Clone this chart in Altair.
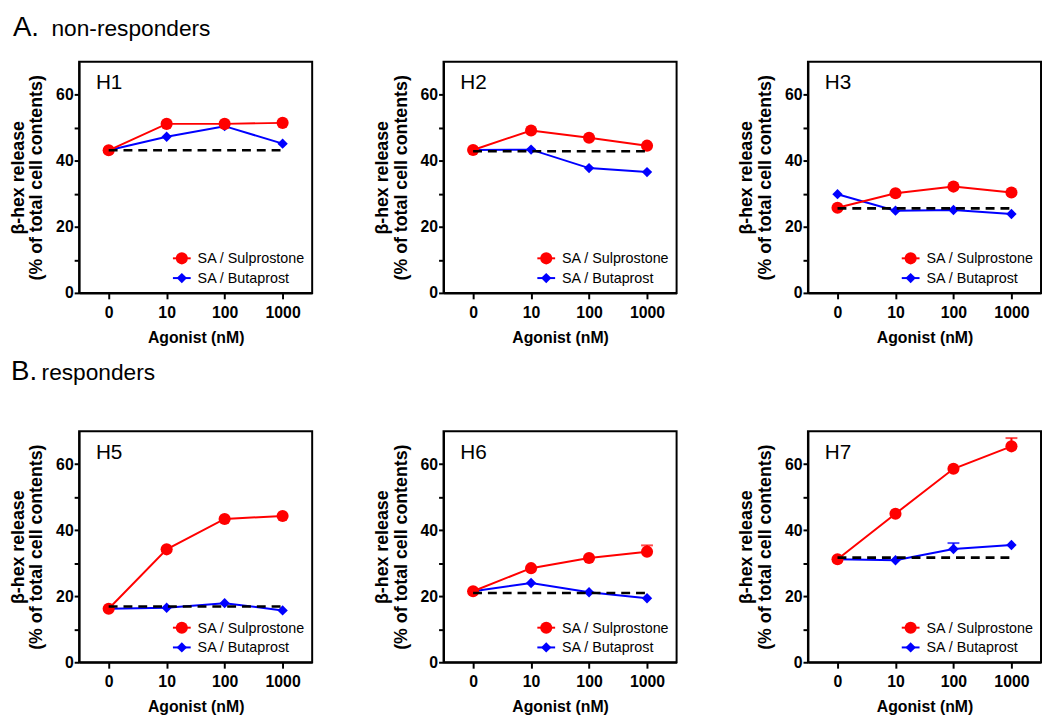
import altair as alt
import pandas as pd

# ---------------- data ----------------
DOSES = ["0", "10", "100", "1000"]
SERIES = ["SA / Sulprostone", "SA / Butaprost"]
PANELS_A = ["H1", "H2", "H3"]
PANELS_B = ["H5", "H6", "H7"]
GROUP_LETTERS = ["A.", "B."]
GROUP_NAMES = ["non-responders", "responders"]
X_TITLE = "Agonist (nM)"
Y_TITLE = ["β-hex release", "(% of total cell contents)"]
Y_TICKS = [0, 10, 20, 30, 40, 50, 60]

SULPRO = {
    "H1": [43.2, 51.2, 51.2, 51.5],
    "H2": [43.3, 49.2, 47.0, 44.6],
    "H3": [25.8, 30.2, 32.2, 30.4],
    "H5": [16.2, 34.2, 43.4, 44.3],
    "H6": [21.5, 28.5, 31.6, 33.5],
    "H7": [31.2, 45.0, 58.6, 65.4],
}
SULPRO_ERR = {
    "H1": [0, 0, 0, 0],
    "H2": [0, 0, 0, 0],
    "H3": [0, 0, 0, 0],
    "H5": [0, 0, 0, 0],
    "H6": [0, 0, 0, 1.9],
    "H7": [0, 0, 0, 2.5],
}
BUTA = {
    "H1": [43.2, 47.3, 50.5, 45.2],
    "H2": [43.3, 43.4, 37.8, 36.6],
    "H3": [29.9, 24.9, 25.1, 23.9],
    "H5": [16.2, 16.5, 17.9, 15.7],
    "H6": [21.5, 24.0, 21.2, 19.4],
    "H7": [31.2, 30.9, 34.3, 35.5],
}
BUTA_ERR = {
    "H1": [0, 0, 0, 0],
    "H2": [0, 0, 0, 0],
    "H3": [0, 0, 0, 0],
    "H5": [0, 0, 0, 0],
    "H6": [0, 0, 0, 0],
    "H7": [0, 0, 1.8, 0],
}
BASELINE = {"H1": 43.2, "H2": 42.9, "H3": 25.6, "H5": 16.9, "H6": 21.0, "H7": 31.7}

rows = []
for p in PANELS_A + PANELS_B:
    for s, vals, errs in [(SERIES[0], SULPRO[p], SULPRO_ERR[p]), (SERIES[1], BUTA[p], BUTA_ERR[p])]:
        for d, v, e in zip(DOSES, vals, errs):
            rows.append({"panel": p, "series": s, "dose": d, "value": v, "err": e, "top": v + e})
df = pd.DataFrame(rows)

base_rows = []
for p in PANELS_A + PANELS_B:
    for d in (DOSES[0], DOSES[-1]):
        base_rows.append({"panel": p, "dose": d, "value": BASELINE[p]})
base_df = pd.DataFrame(base_rows)

# ---------------- style ----------------
RED = "#FF0000"
BLUE = "#0000FF"
FONT = "Liberation Sans"
W, H = 236, 234

X_AXIS = alt.Axis(title=X_TITLE, labelAngle=0, tickSize=6, labelPadding=6, titlePadding=9,
                  titleFontSize=16)
Y_AXIS = alt.Axis(title=Y_TITLE, values=Y_TICKS, tickSize=5, labelPadding=1, titlePadding=10,
                  titleFontSize=18, titleLineHeight=19,
                  labelExpr="datum.value % 20 == 0 ? datum.label : ''")
X_SCALE = alt.Scale(type="point", padding=0.51)
Y_SCALE = alt.Scale(domain=[0, 70], nice=False)


def xe():
    return alt.X("dose:O", sort=DOSES, scale=X_SCALE, axis=X_AXIS)


def ye(field="value"):
    return alt.Y(f"{field}:Q", scale=Y_SCALE, axis=Y_AXIS)


def panel(pid):
    d = df[df.panel == pid]
    layers = []
    for s, color, shape, size in [(SERIES[1], BLUE, "diamond", 110), (SERIES[0], RED, "circle", 150)]:
        sd = d[d.series == s]
        ed = sd[sd.err > 0]
        if len(ed):
            layers.append(alt.Chart(ed).mark_rule(color=color, strokeWidth=2).encode(
                x=xe(), y=ye(), y2="top:Q"))
            layers.append(alt.Chart(ed).mark_tick(color=color, thickness=2, size=12,
                                                  orient="horizontal").encode(x=xe(), y=ye("top")))
        layers.append(alt.Chart(sd).mark_line(color=color, strokeWidth=2).encode(x=xe(), y=ye()))
        layers.append(alt.Chart(sd).mark_point(color=color, filled=True, shape=shape, size=size,
                                               opacity=1).encode(x=xe(), y=ye()))
    bd = base_df[base_df.panel == pid]
    layers.append(alt.Chart(bd).mark_line(color="black", strokeWidth=2.6, strokeDash=[9, 6]).encode(
        x=xe(), y=ye()))
    # panel label
    layers.append(alt.Chart(pd.DataFrame({"label": [pid]})).mark_text(
        align="left", baseline="alphabetic", fontSize=21, font=FONT, color="black").encode(
        text="label:N", x=alt.value(17), y=alt.value(28)))
    # legend
    for i, (s, color, shape, size) in enumerate([(SERIES[0], RED, "circle", 150),
                                                 (SERIES[1], BLUE, "diamond", 110)]):
        ld = pd.DataFrame({"series": [s]})
        yp = H - 35 + 20 * i
        layers.append(alt.Chart(ld).mark_rule(color=color, strokeWidth=2).encode(
            x=alt.value(95), x2=alt.value(113), y=alt.value(yp)))
        layers.append(alt.Chart(ld).mark_point(color=color, filled=True, shape=shape, size=size,
                                               opacity=1).encode(x=alt.value(104), y=alt.value(yp)))
        layers.append(alt.Chart(ld).mark_text(align="left", baseline="middle", fontSize=14.5,
                                              font=FONT, color="black").encode(
            text="series:N", x=alt.value(120), y=alt.value(yp + 1)))
    return alt.layer(*layers).properties(width=W, height=H)


def header(i, h, x_letter, x_name, y_base):
    hd = pd.DataFrame({"letter": [GROUP_LETTERS[i]], "name": [GROUP_NAMES[i]]})
    t1 = alt.Chart(hd).mark_text(align="left", baseline="alphabetic", fontSize=28, font=FONT,
                                 color="black").encode(text="letter:N", x=alt.value(x_letter),
                                                       y=alt.value(y_base))
    t2 = alt.Chart(hd).mark_text(align="left", baseline="alphabetic", fontSize=23, font=FONT,
                                 color="black").encode(text="name:N", x=alt.value(x_name),
                                                       y=alt.value(y_base))
    return alt.layer(t1, t2).properties(width=300, height=h, view=alt.ViewBackground(stroke=None))


row_a = alt.hconcat(*[panel(p) for p in PANELS_A], spacing=60)
row_b = alt.hconcat(*[panel(p) for p in PANELS_B], spacing=60)

chart = alt.vconcat(
    header(0, 49, -67, -28, 24),
    row_a,
    header(1, 85, -69, -38, 34),
    row_b,
    spacing=0,
).properties(
    padding={"left": 0, "top": 0, "right": 0, "bottom": 0}
).configure_view(
    stroke="black", strokeWidth=2
).configure_axis(
    labelFont=FONT, labelFontWeight="bold", labelFontSize=16, labelColor="black",
    titleFont=FONT, titleFontWeight="bold", titleColor="black",
    domainColor="black", domainWidth=2, tickColor="black", tickWidth=2, grid=False
)

chart.save("out.html", embed_options={"renderer": "svg", "actions": False})
